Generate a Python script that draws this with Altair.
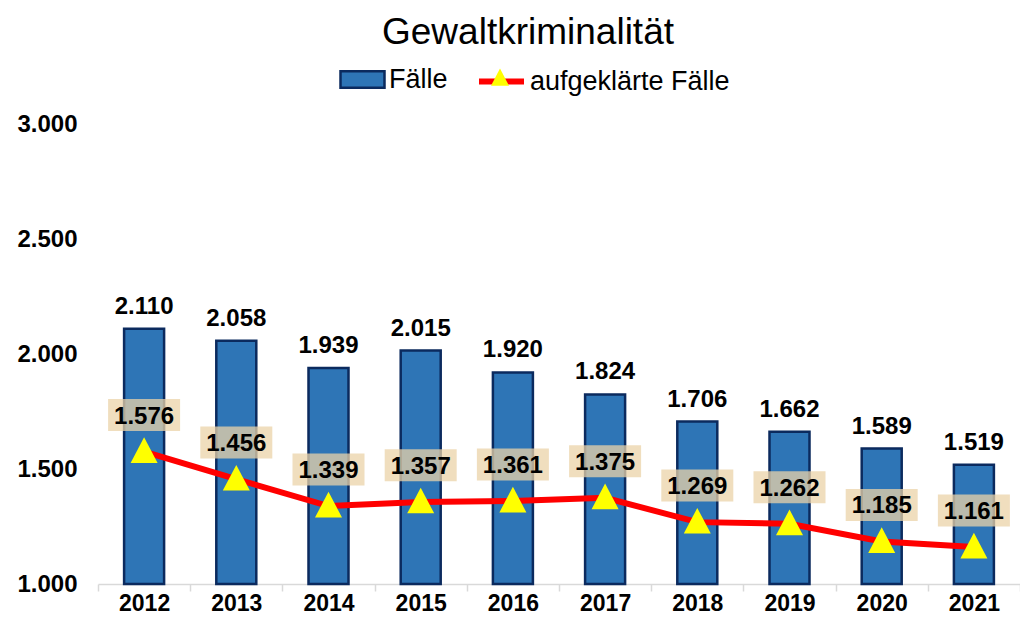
import altair as alt
import pandas as pd

years = ["2012", "2013", "2014", "2015", "2016", "2017", "2018", "2019", "2020", "2021"]
faelle = [2110, 2058, 1939, 2015, 1920, 1824, 1706, 1662, 1589, 1519]
aufgeklaert = [1576, 1456, 1339, 1357, 1361, 1375, 1269, 1262, 1185, 1161]
y_ticks = [1000, 1500, 2000, 2500, 3000]

FONT = "Liberation Sans"
BLUE = "#2E75B6"
NAVY = "#0B2A5E"
RED = "#FF0000"
YELLOW = "#FFFF00"
TAN = "#EBD3A8"

df = pd.DataFrame({"Jahr": years, "Faelle": faelle, "Aufgeklaert": aufgeklaert})

fmt = "replace(format({v}, ','), ',', '.')"

base = alt.Chart(df).transform_calculate(
    lab_f=fmt.format(v="datum.Faelle"),
    lab_a=fmt.format(v="datum.Aufgeklaert"),
    s_f="'Fälle'",
    s_a="'aufgeklärte Fälle'",
    s_t="'Dreieck'",
)

x_enc = alt.X(
    "Jahr:N",
    sort=None,
    scale=alt.Scale(paddingInner=0, paddingOuter=0),
    axis=alt.Axis(
        title=None,
        labelAngle=0,
        labelFont=FONT,
        labelFontSize=23,
        labelFontWeight="bold",
        labelColor="#000000",
        labelPadding=1,
        domainColor="#D9D9D9",
        domainWidth=1.5,
        tickColor="#D9D9D9",
        tickWidth=1.5,
        tickSize=7,
        tickBand="extent",
    ),
)

y_scale = alt.Scale(domain=[1000, 3000], nice=False, zero=False)

y_axis = alt.Axis(
    title=None,
    values=y_ticks,
    labelExpr=fmt.format(v="datum.value"),
    labelFont=FONT,
    labelFontSize=24,
    labelFontWeight="bold",
    labelColor="#000000",
    labelPadding=21,
    grid=False,
    domain=False,
    ticks=False,
)

bars = base.mark_bar(size=40, stroke=NAVY, strokeWidth=2.5).encode(
    x=x_enc,
    y=alt.Y("Faelle:Q", scale=y_scale, axis=y_axis),
    y2=alt.datum(1000),
    fill=alt.Fill(
        "s_f:N",
        scale=alt.Scale(domain=["Fälle"], range=[BLUE]),
        legend=alt.Legend(
            title=None,
            orient="none",
            legendX=241,
            legendY=-68,
            padding=0,
            symbolType="M-1,-0.38H1V0.38H-1Z",
            symbolSize=1936,
            symbolStrokeColor=NAVY,
            symbolStrokeWidth=2.5,
            labelFont=FONT,
            labelFontSize=27,
            labelColor="#000000",
            labelOffset=3,
            labelLimit=400,
        ),
    ),
)

line = base.mark_line(strokeWidth=6).encode(
    x=x_enc,
    y=alt.Y("Aufgeklaert:Q", scale=y_scale, axis=y_axis),
    stroke=alt.Stroke(
        "s_a:N",
        scale=alt.Scale(domain=["aufgeklärte Fälle"], range=[RED]),
        legend=alt.Legend(
            title=None,
            orient="none",
            legendX=378,
            legendY=-68,
            padding=0,
            symbolType="stroke",
            symbolSize=2025,
            symbolStrokeWidth=6,
            labelFont=FONT,
            labelFontSize=27,
            labelColor="#000000",
            labelOffset=3,
            labelLimit=400,
        ),
    ),
)

TRI = "M0,-1.05L-1,0.85L1,0.85Z"

points = base.mark_point(filled=True, size=729, opacity=1, strokeWidth=0).encode(
    x=x_enc,
    y=alt.Y("Aufgeklaert:Q", scale=y_scale, axis=y_axis),
    fill=alt.value(YELLOW),
    shape=alt.Shape(
        "s_t:N",
        scale=alt.Scale(domain=["Dreieck"], range=[TRI]),
        legend=alt.Legend(
            title=None,
            orient="none",
            legendX=393,
            legendY=-55,
            padding=0,
            symbolSize=324,
            symbolFillColor=YELLOW,
            symbolStrokeWidth=0,
            labelExpr="''",
            labelFontSize=6,
        ),
    ),
)

boxes = base.mark_point(
    shape="M-1,-1.46H1V-0.57H-1Z",
    size=5184,
    filled=True,
    color=TAN,
    opacity=0.75,
    strokeWidth=0,
).encode(
    x=x_enc,
    y=alt.Y("Aufgeklaert:Q", scale=y_scale, axis=y_axis),
)

line_labels = base.mark_text(
    font=FONT, fontSize=24, fontWeight="bold", color="#000000", baseline="middle", dy=-35
).encode(
    x=x_enc,
    y=alt.Y("Aufgeklaert:Q", scale=y_scale, axis=y_axis),
    text="lab_a:N",
)

bar_labels = base.mark_text(
    font=FONT, fontSize=24, fontWeight="bold", color="#000000", baseline="alphabetic", dy=-15
).encode(
    x=x_enc,
    y=alt.Y("Faelle:Q", scale=y_scale, axis=y_axis),
    text="lab_f:N",
)

chart = (
    alt.layer(bars, line, points, boxes, line_labels, bar_labels)
    .properties(
        width=922,
        height=460,
        padding={"left": 90, "top": 116, "right": 0, "bottom": 34},
        autosize=alt.AutoSizeParams(type="none"),
        title=alt.TitleParams(
            text="Gewaltkriminalität",
            font=FONT,
            fontSize=37,
            fontWeight="normal",
            color="#000000",
            anchor="middle",
            frame="group",
            dx=-31,
        ),
    )
    .configure_view(stroke=None)
)

chart.save("out.html", embed_options={"renderer": "svg", "actions": False})
